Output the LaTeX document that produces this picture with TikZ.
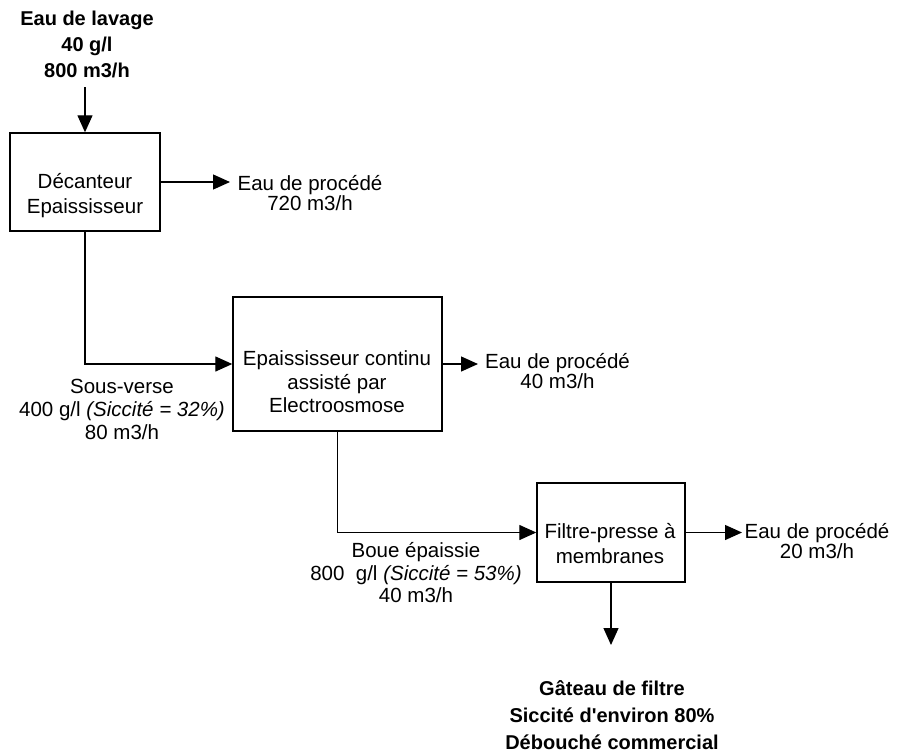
\documentclass[tikz,border=0pt]{standalone}
\usepackage{fontspec}
\setmainfont{Liberation Sans}
\usetikzlibrary{arrows.meta}
\newcommand{\straightquote}{\XeTeXglyph\XeTeXcharglyph"0027\relax}
\begin{document}
\begin{tikzpicture}[x=1pt,y=-1pt,
  box/.style={draw, line width=1.4pt, rectangle, inner sep=0pt},
  lbl/.style={align=center, inner sep=0pt, font=\fontsize{20.5}{#1}\selectfont},
  blbl/.style={align=center, inner sep=0pt, font=\fontsize{20}{#1}\selectfont\bfseries},
  flow/.style={line width=1.3pt, -{Triangle[length=17pt,width=15pt]}},
  plain/.style={line width=1.3pt}
]
\useasboundingbox (0,0) rectangle (900,753);

% nodes
\node[blbl=26] (feedlbl) at (87,44) {Eau de lavage\\40 g/l\\800 m3/h};
\node[box, minimum width=150pt, minimum height=98pt] (b1) at (85,182) {};
\node[lbl=25] (b1t) at (85,196) {Décanteur\\Epaississeur};
\node[lbl=20] (e1) at (310,193) {Eau de procédé\\720 m3/h};

\node[box, minimum width=209pt, minimum height=134pt] (b2) at (337.5,364) {};
\node[lbl=23.5] (b2t) at (337,382) {Epaississeur continu\\assisté par\\Electroosmose};
\node[lbl=19] (e2) at (557.5,371) {Eau de procédé\\40 m3/h};
\node[lbl=23] (sv) at (122,409) {Sous-verse\\400 g/l \textit{(Siccité = 32\%)}\\80 m3/h};

\node[box, minimum width=148pt, minimum height=99pt] (b3) at (611,532.5) {};
\node[lbl=25] (b3t) at (610,544) {Filtre-presse à\\membranes};
\node[lbl=19] (e3) at (817,541) {Eau de procédé\\20 m3/h};
\node[lbl=22.5] (be) at (416,573) {Boue épaissie\\800\ \ g/l \textit{(Siccité = 53\%)}\\40 m3/h};

\node[blbl=27] (cake) at (612,715) {Gâteau de filtre\\Siccité d\straightquote environ 80\%\\Débouché commercial};

% free ends
\coordinate (feedend) at (85,87);
\coordinate (e1tip) at (230,182);
\coordinate (e2tip) at (478,364);
\coordinate (e3tip) at (742,532.5);
\coordinate (caketip) at (611,645);

% connectors
\draw[flow] (feedend) -- (b1.north);
\draw[flow] (b1.east) -- (e1tip);
\draw[flow] (b1.south) |- (b2.west);
\draw[flow] (b2.east) -- (e2tip);
\draw[flow] (b2.south) |- (b3.west);
\draw[flow] (b3.east) -- (e3tip);
\draw[flow] (b3.south) -- (caketip);
\end{tikzpicture}
\end{document}
